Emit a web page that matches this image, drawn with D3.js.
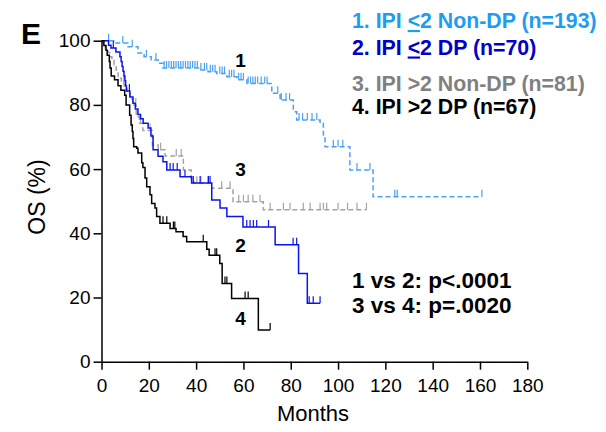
<!DOCTYPE html>
<html><head><meta charset="utf-8">
<script src="https://cdn.jsdelivr.net/npm/d3@7/dist/d3.min.js"></script>
<style>body{margin:0;background:#fff} text{font-family:"Liberation Sans",Arial,Helvetica,sans-serif}</style>
</head><body><svg id="c" width="606" height="432"></svg>
<script>
// ---- data ----
const xTicks = [0, 20, 40, 60, 80, 100, 120, 140, 160, 180];
const yTicks = [0, 20, 40, 60, 80, 100];
const groupNames = ["1. IPI ", "2. IPI ", "3. IPI >2 Non-DP (n=81)", "4. IPI >2 DP (n=67)"];

// Curve 1: IPI <=2 Non-DP
const c1Times = [0, 5.7, 11.2, 15.4, 18, 21, 24, 26, 41.7, 45, 48.7, 53, 57.3, 61.5, 72, 75.5, 81.1, 82.5, 92.4, 93.8, 94.5, 105, 114.8];
const c1Surv  = [100, 99.3, 98.1, 96.2, 95, 94, 93, 91.5, 90.9, 90.3, 89.8, 88.8, 87.8, 86.7, 83.6, 81.5, 77.9, 75.3, 74.3, 70.1, 67, 59.7, 51.4];
const c1End = 160.8;
const c1Censor = [3, 9, 13, 19, 23, 26.5, 27.5, 28.5, 29.5, 30.5, 31.5, 32.5, 33.5, 34.5, 35.5, 36.5, 37.5, 38.5, 39.5, 40.5, 42, 43.5, 44.5, 46, 47, 48, 50, 51, 52, 54, 55, 56, 58, 59, 60, 62, 63, 64, 65, 66, 67.5, 69, 70, 74.5, 76, 78, 79.5, 83.5, 85, 87, 89, 91, 98, 100, 102, 108, 113.5, 124, 125, 160.8];

// Curve 2: IPI <=2 DP
const c2Times = [0, 3, 4, 6.1, 7.8, 8.3, 8.7, 9.1, 9.5, 9.9, 10.2, 10.5, 12, 13.3, 14.3, 15.4, 16.5, 17.6, 19.7, 20.9, 21.8, 23.9, 26, 27.6, 33.2, 38.1, 46.6, 50.1, 53, 59.8, 73.4, 83.3, 87];
const c2Surv  = [100, 98.6, 97.7, 96.5, 95, 93.5, 92, 90.5, 89, 87.5, 86, 84.3, 82.5, 80.5, 78.7, 77, 75.7, 74.3, 72.8, 70.3, 66, 64, 62.3, 59.7, 57.6, 55.7, 50.4, 47.9, 45.2, 42, 36.4, 27.5, 18.2];
const c2End = 92.4;
const c2Censor = [5, 11.8, 29, 30.3, 32, 35.3, 38.8, 41.7, 45.2, 45.9, 61.4, 62.8, 64.2, 65.6, 70.6, 81, 82.5, 87.8, 89.5, 92.4];

// Curve 3: IPI >2 Non-DP
const c3Times = [0, 0.8, 1.6, 2.7, 3.5, 4.4, 5.3, 6.2, 7, 8.4, 9.6, 10.9, 12.1, 13.3, 14.7, 16, 17.5, 21.5, 24, 26.9, 34.6, 37.9, 39, 46.6, 55.6, 68.4];
const c3Surv  = [100, 98.8, 97.5, 96.3, 95, 93.8, 92.5, 90.9, 88.3, 86.7, 85.2, 83.6, 81.8, 80, 76.3, 74.3, 72, 67.5, 66, 64.1, 59.7, 57.1, 55.6, 54, 49.8, 47.3];
const c3End = 112;
const c3Censor = [9.4, 14.5, 16.5, 20.5, 25, 31.6, 33.7, 40.3, 42, 45, 50.8, 54.3, 58, 60, 62, 64, 67, 71.3, 76.9, 79.7, 85.3, 88.2, 92.4, 93.8, 95.2, 100, 104, 108, 112];

// Curve 4: IPI >2 DP
const c4Times = [0, 1, 1.9, 2.4, 3.3, 3.6, 4.1, 5.5, 7, 8.2, 9.8, 10.4, 11.9, 12.5, 13, 13.3, 13.6, 14.9, 15.4, 17, 17.5, 18.4, 19.1, 20.5, 21.2, 22.6, 23.3, 24.7, 29, 31.5, 34.5, 36, 44.5, 45.5, 50, 51, 55, 66.3];
const c4Surv  = [100, 98.5, 97, 95.5, 93.5, 91.5, 89, 87.8, 86, 84.6, 83, 80, 76.8, 73.7, 71.7, 69.5, 67, 66.5, 65, 62, 60.5, 57.2, 54.5, 52, 49.3, 47.9, 45.2, 43.1, 41.5, 40.5, 39, 37.4, 35, 33.2, 30.6, 24.4, 19.7, 9.9];
const c4End = 71.3;
const c4Censor = [26, 27.6, 30.4, 31, 43, 48, 48.7, 52.2, 53, 60.7, 62, 71.3];

// ---- drawing ----
const svg = d3.select("#c");
const x = d3.scaleLinear().domain([0, 180]).range([101.5, 527.3]);
const y = d3.scaleLinear().domain([0, 100]).range([361.7, 40.7]);

const curves = [
  {t: c1Times, s: c1Surv, end: c1End, cens: c1Censor, color: "#4aa0f2", dash: "5,3"},
  {t: c3Times, s: c3Surv, end: c3End, cens: c3Censor, color: "#a3a3a3", dash: "5,3"},
  {t: c2Times, s: c2Surv, end: c2End, cens: c2Censor, color: "#0a14f0", dash: null},
  {t: c4Times, s: c4Surv, end: c4End, cens: c4Censor, color: "#000000", dash: null}
];

const line = d3.line().x(d => x(d[0])).y(d => y(d[1])).curve(d3.curveStepAfter);
function survAt(c, t) {
  let v = c.s[0];
  for (let i = 0; i < c.t.length; i++) if (c.t[i] <= t) v = c.s[i];
  return v;
}
curves.forEach(c => {
  const pts = c.t.map((t, i) => [t, c.s[i]]);
  pts.push([c.end, c.s[c.s.length - 1]]);
  const g = svg.append("g");
  g.append("path").attr("d", line(pts)).attr("fill", "none")
    .attr("stroke", c.color).attr("stroke-width", 1.5)
    .attr("stroke-dasharray", c.dash);
  g.selectAll("line").data(c.cens).join("line")
    .attr("x1", d => x(d)).attr("x2", d => x(d))
    .attr("y1", d => y(survAt(c, d))).attr("y2", d => y(survAt(c, d)) - 7)
    .attr("stroke", c.color).attr("stroke-width", 1.2);
});

// axes
const ax = svg.append("g").attr("transform", `translate(0,${y(0)})`)
  .call(d3.axisBottom(x).tickValues(xTicks).tickSize(8).tickSizeOuter(0).tickPadding(9));
const ay = svg.append("g").attr("transform", `translate(${x(0)},0)`)
  .call(d3.axisLeft(y).tickValues(yTicks).tickSize(8).tickSizeOuter(0).tickPadding(3));
[ax, ay].forEach(a => {
  a.selectAll("path,line").attr("stroke", "#000").attr("stroke-width", 1.5);
  a.selectAll("text").attr("font-size", 19).attr("fill", "#000")
    .attr("font-family", '"Liberation Sans",Arial,sans-serif');
});

// axis titles
svg.append("text").attr("x", 313).attr("y", 421).attr("text-anchor", "middle")
  .attr("font-size", 22).text("Months");
svg.append("text").attr("transform", "translate(45,197) rotate(-90)")
  .attr("text-anchor", "middle").attr("font-size", 23).text("OS (%)");

// panel letter
svg.append("text").attr("x", 21).attr("y", 44).attr("font-size", 30)
  .attr("font-weight", "bold").text("E");

// curve labels
const labels = [["1", 67], ["3", 176], ["2", 251.5], ["4", 325]];
labels.forEach(l => svg.append("text").attr("x", 240.5).attr("y", l[1])
  .attr("text-anchor", "middle").attr("font-size", 19).attr("font-weight", "bold").text(l[0]));

// legend
const legColors = ["#1e9cf0", "#0000c8", "#808080", "#000000"];
const legY = [28, 54.5, 90.5, 113.5];
[0, 1].forEach(i => {
  const t = svg.append("text").attr("x", 352).attr("y", legY[i]).attr("font-size", 21.3)
    .attr("font-weight", "bold").attr("fill", legColors[i]);
  t.append("tspan").text(groupNames[i]);
  t.append("tspan").attr("text-decoration", "underline").style("text-decoration", "underline").text("<");
  t.append("tspan").text(i === 0 ? "2 Non-DP (n=193)" : "2 DP (n=70)");
});
[2, 3].forEach(i => {
  svg.append("text").attr("x", 352).attr("y", legY[i]).attr("font-size", 21.3)
    .attr("font-weight", "bold").attr("fill", legColors[i]).text(groupNames[i]);
});

// p-values
svg.append("text").attr("x", 352).attr("y", 288).attr("font-size", 22.5)
  .attr("font-weight", "bold").text("1 vs 2: p<.0001");
svg.append("text").attr("x", 352).attr("y", 313).attr("font-size", 22.5)
  .attr("font-weight", "bold").text("3 vs 4: p=.0020");
</script></body></html>
